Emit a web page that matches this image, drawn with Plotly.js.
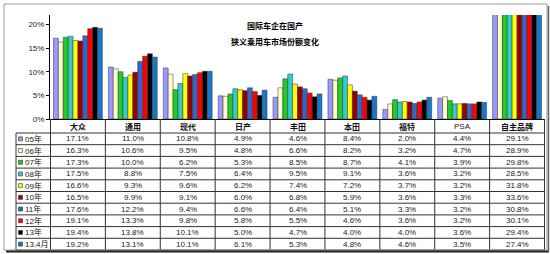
<!DOCTYPE html>
<html><head><meta charset="utf-8">
<script src="https://cdn.plot.ly/plotly-3.0.1.min.js"></script>
<style>html,body{margin:0;padding:0;background:#fff;}#chart{width:550px;height:254px;}</style>
</head><body><div id="chart"></div>
<script>
const categories = ['大众','通用','现代','日产','丰田','本田','福特','PSA','自主品牌'];
const seriesNames = ['05年','06年','07年','08年','09年','10年','11年','12年','13年','13.4月'];
const s05 = [17.1, 11.0, 10.8, 4.9, 4.6, 8.4, 2.0, 4.4, 29.1];
const s06 = [16.3, 10.6, 9.5, 4.8, 6.6, 8.2, 3.2, 4.7, 28.9];
const s07 = [17.3, 10.0, 6.2, 5.3, 8.5, 8.7, 4.1, 3.9, 29.8];
const s08 = [17.5, 8.8, 7.5, 6.4, 9.5, 9.1, 3.6, 3.2, 28.5];
const s09 = [16.6, 9.3, 9.6, 6.2, 7.4, 7.2, 3.7, 3.2, 31.8];
const s10 = [16.5, 9.9, 9.1, 6.0, 6.8, 5.9, 3.6, 3.3, 33.6];
const s11 = [17.6, 12.2, 9.4, 6.6, 6.4, 5.1, 3.3, 3.2, 30.8];
const s12 = [19.1, 13.3, 9.8, 5.8, 5.5, 4.6, 3.6, 3.2, 30.1];
const s13 = [19.4, 13.8, 10.1, 5.0, 4.7, 4.0, 4.0, 3.6, 29.4];
const s134 = [19.2, 13.1, 10.1, 6.1, 5.3, 4.8, 4.6, 3.5, 27.4];
const yTicks = [0, 5, 10, 15, 20];
const yTickText = ['0%', '5%', '10%', '15%', '20%'];

const seriesValues = [s05, s06, s07, s08, s09, s10, s11, s12, s13, s134];
const colors = ['#9999FF','#FFFFCC','#22CC22','#33CCCC','#FFFF00','#990000','#3366CC','#FF0000','#000000','#1878C8'];

const H = 254, W = 550;
const py = y => (H - y) / H;   // pixel row -> paper fraction
const px = x => x / W;

const traces = seriesValues.map((vals, i) => ({
  type: 'bar', x: categories, y: vals, name: seriesNames[i],
  marker: {color: colors[i], line: {color: '#333', width: 0.5}},
  showlegend: false, hoverinfo: 'x+y+name'
}));

// ---- data table (text via annotations on the category axis, grid via shapes) ----
const tableTop = 119, headerBottom = 133, rowH = 11.7;
const tableBottom = headerBottom + rowH * seriesNames.length;
const annotations = [];
const shapes = [];
const valFont = {family: 'Liberation Sans, Arial, sans-serif', size: 8, color: '#222'};
const cjkFont = {family: 'Noto Sans CJK SC, sans-serif', size: 8, color: '#111'};

categories.forEach((c, j) => {
  annotations.push({xref: 'x', yref: 'paper', x: c, y: py((tableTop + headerBottom) / 2 + 0.5),
    xanchor: 'center', yanchor: 'middle', showarrow: false,
    text: c === 'PSA' ? c : '<b>' + c + '</b>', font: c === 'PSA' ? valFont : cjkFont});
  seriesValues.forEach((vals, i) => {
    annotations.push({xref: 'x', yref: 'paper', x: c, y: py(headerBottom + rowH * (i + 0.5)),
      xanchor: 'center', yanchor: 'middle', showarrow: false,
      text: vals[j].toFixed(1) + '%', font: valFont});
  });
});
seriesNames.forEach((n, i) => {
  const yc = headerBottom + rowH * (i + 0.5);
  shapes.push({type: 'rect', xref: 'paper', yref: 'paper', x0: px(18.5), x1: px(22.5), y0: py(yc + 2), y1: py(yc - 2),
    fillcolor: colors[i], line: {color: '#333', width: 0.6}});
  annotations.push({xref: 'paper', yref: 'paper', x: px(23), y: py(yc),
    xanchor: 'left', yanchor: 'middle', showarrow: false,
    text: n,
    font: {family: 'Liberation Sans, Noto Sans CJK SC, sans-serif', size: 8, color: '#222'}});
});

// horizontal grid lines of the table
for (let k = 0; k <= seriesNames.length; k++) {
  const y = headerBottom + rowH * k;
  shapes.push({type: 'line', xref: 'paper', yref: 'paper', x0: px(16), x1: px(545), y0: py(y), y1: py(y),
    line: {color: '#333', width: 1}});
}
// vertical grid lines at category boundaries (through the category axis)
for (let j = 0; j <= categories.length; j++) {
  shapes.push({type: 'line', xref: 'x', yref: 'paper', x0: j - 0.5, x1: j - 0.5, y0: py(tableTop), y1: py(tableBottom),
    line: {color: '#333', width: 1}});
}
// left edge of row-header column
shapes.push({type: 'line', xref: 'paper', yref: 'paper', x0: px(16), x1: px(16), y0: py(headerBottom), y1: py(tableBottom),
  line: {color: '#333', width: 1}});

// outer chart frame with shadow
shapes.push({type: 'rect', xref: 'paper', yref: 'paper', x0: px(4), x1: px(547), y0: py(250), y1: py(4),
  line: {color: '#999', width: 1}, fillcolor: 'rgba(0,0,0,0)'});
shapes.push({type: 'line', xref: 'paper', yref: 'paper', x0: px(6), x1: px(549), y0: py(251.5), y1: py(251.5),
  line: {color: '#222', width: 2}});
shapes.push({type: 'line', xref: 'paper', yref: 'paper', x0: px(548.5), x1: px(548.5), y0: py(251.5), y1: py(6),
  line: {color: '#666', width: 1.5}});

annotations.push({
  xref: 'paper', yref: 'paper', x: px(275), y: py(41),
  xanchor: 'center', yanchor: 'middle', showarrow: false,
  text: '<b>狭义乘用车市场份额变化</b>',
  font: {family: 'Noto Sans CJK SC, sans-serif', size: 8, color: '#000'}
});

const layout = {
  width: W, height: H,
  margin: {l: 0, r: 0, t: 0, b: 0},
  paper_bgcolor: '#fff', plot_bgcolor: '#fff',
  bargap: 0.11, bargroupgap: 0,
  title: {
    text: '<b>国际车企在国产</b>',
    x: px(275), xanchor: 'center', y: py(26), yanchor: 'middle',
    font: {family: 'Noto Sans CJK SC, sans-serif', size: 8, color: '#000'}
  },
  annotations: annotations,
  shapes: shapes,
  xaxis: {
    domain: [px(50), px(545)], type: 'category',
    showticklabels: false, ticks: '', showline: true, linecolor: '#000', linewidth: 1,
    showgrid: false, zeroline: false, fixedrange: true
  },
  yaxis: {
    domain: [py(119), py(15)], range: [0, 22],
    tickvals: yTicks, ticktext: yTickText,
    tickfont: {family: 'Liberation Sans, sans-serif', size: 8, color: '#222'},
    ticks: 'outside', ticklen: 3, tickcolor: '#000',
    showline: true, linecolor: '#000', linewidth: 1,
    showgrid: false, zeroline: false, fixedrange: true
  }
};

Plotly.newPlot('chart', traces, layout, {displayModeBar: false, staticPlot: true});
</script></body></html>
